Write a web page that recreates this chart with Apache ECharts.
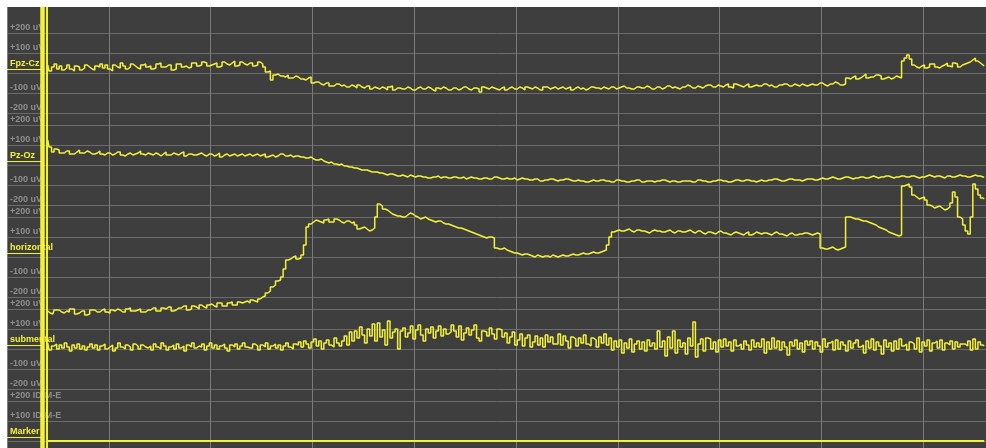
<!DOCTYPE html>
<html>
<head>
<meta charset="utf-8">
<script src="https://cdn.jsdelivr.net/npm/echarts@6.0.0/dist/echarts.min.js"></script>
<style>
html, body { margin: 0; padding: 0; background: #fff; }
#chart { width: 986px; height: 448px; }
</style>
</head>
<body>
<div id="chart"></div>
<script>
// montage
var channelNames = ['Fpz-Cz', 'Pz-Oz', 'horizontal', 'submental', 'Marker'];
var channelUnits = ['uV', 'uV', 'uV', 'uV', 'ID-M-E'];
var windowSec = 9.617;      // visible seconds
var startSec = 0.4, sampleSec = 0.025;
var cursorTimes = [0.346, 0.391];

// traces, uV (one sample every 0.025 s from startSec)
var fpzCz = [40, 10, 30, 45, 20, 35, 15, 25, 40, 20, 10, 35, 30, 15, 25, 40, 30, 20, 15, 35,
  30, 45, 25, 40, 20, 10, 40, 30, 25, 50, 35, 20, 30, 45, 35, 25, 20, 40, 45, 30,
  35, 20, 25, 45, 50, 30, 30, 40, 40, 15, 20, 45, 45, 30, 35, 25, 30, 50, 50, 35,
  40, 55, 50, 35, 40, 45, 50, 30, 35, 55, 45, 40, 50, 60, 35, 40, 55, 45, 40, 50,
  50, 35, 40, 55, 45, 30, 5, 10, -35, -10, -5, -15, -15, -20, -10, -25, -25, -15, -20, -30,
  -30, -35, -25, -20, -50, -45, -45, -55, -60, -50, -50, -65, -65, -55, -55, -65, -60, -70, -70, -60,
  -65, -75, -60, -70, -75, -65, -65, -80, -70, -75, -80, -70, -75, -85, -70, -65, -85, -75, -75, -80,
  -80, -70, -75, -85, -85, -75, -70, -80, -80, -70, -75, -85, -90, -75, -80, -70, -75, -85, -85, -75,
  -75, -85, -80, -70, -70, -80, -85, -75, -75, -80, -95, -70, -75, -80, -70, -75, -80, -85, -75, -70,
  -85, -75, -70, -80, -80, -70, -75, -85, -70, -75, -80, -70, -75, -85, -85, -70, -70, -80, -75, -70,
  -80, -75, -70, -80, -75, -70, -85, -75, -70, -80, -75, -85, -80, -70, -70, -75, -75, -80, -70, -75,
  -80, -70, -70, -80, -75, -70, -65, -75, -75, -80, -80, -70, -70, -75, -75, -65, -70, -80, -80, -70,
  -70, -80, -75, -65, -65, -75, -70, -75, -80, -70, -70, -60, -65, -75, -75, -65, -70, -75, -65, -60,
  -60, -70, -70, -60, -65, -70, -60, -55, -70, -75, -55, -60, -65, -70, -60, -55, -70, -65, -60, -65,
  -65, -55, -55, -65, -60, -70, -70, -60, -60, -55, -55, -65, -65, -55, -60, -65, -55, -60, -65, -60,
  -55, -60, -60, -50, -50, -60, -65, -55, -55, -45, -50, -60, -60, -55, -25, -30, -20, -15, -30, -25,
  -15, -5, -25, -20, -20, -10, -10, -15, -30, -25, -20, -30, -25, -15, -20, -25, 60, 75, 90, 70,
  40, 30, 25, 35, 40, 25, 30, 45, 45, 30, 25, 35, 40, 50, 35, 30, 50, 45, 30, 40,
  45, 50, 55, 65, 75, 60, 50, 40, 35];

var pzOz = [125, 90, 65, 80, 75, 60, 60, 70, 70, 55, 55, 65, 75, 60, 60, 70, 65, 55, 55, 60,
  70, 55, 50, 60, 60, 50, 55, 65, 65, 50, 45, 55, 60, 50, 55, 60, 70, 55, 50, 60,
  55, 50, 60, 55, 45, 55, 65, 50, 50, 60, 55, 50, 60, 65, 45, 55, 55, 50, 50, 55,
  60, 50, 45, 55, 55, 45, 50, 60, 40, 50, 55, 45, 50, 55, 45, 50, 55, 45, 50, 55,
  45, 50, 55, 45, 50, 55, 40, 45, 50, 40, 45, 55, 55, 45, 45, 50, 40, 45, 45, 40,
  40, 35, 35, 40, 30, 25, 25, 30, 20, 15, 10, 15, 5, 5, 0, 5, -5, -5, -10, -10,
  -15, -15, -20, -25, -25, -25, -30, -35, -35, -35, -40, -40, -45, -50, -45, -45, -50, -55, -55, -50,
  -55, -60, -50, -55, -60, -55, -55, -60, -60, -65, -65, -60, -60, -55, -65, -60, -60, -65, -65, -60,
  -60, -65, -65, -60, -70, -65, -60, -65, -65, -70, -70, -65, -65, -70, -70, -60, -60, -65, -70, -70,
  -65, -70, -70, -65, -75, -70, -65, -70, -70, -75, -75, -70, -70, -80, -80, -75, -75, -70, -70, -75,
  -80, -75, -75, -70, -70, -75, -80, -80, -75, -80, -80, -85, -85, -80, -75, -80, -80, -75, -75, -80,
  -80, -85, -85, -75, -75, -80, -80, -85, -85, -80, -80, -75, -75, -85, -85, -80, -80, -80, -85, -80,
  -80, -75, -75, -80, -85, -80, -80, -85, -85, -80, -80, -80, -80, -85, -85, -75, -75, -80, -80, -85,
  -85, -80, -80, -75, -75, -80, -80, -85, -85, -80, -75, -75, -80, -80, -75, -75, -80, -80, -85, -80,
  -75, -80, -80, -75, -75, -70, -70, -75, -80, -80, -75, -70, -70, -75, -75, -75, -80, -75, -70, -70,
  -70, -75, -75, -70, -65, -70, -70, -65, -60, -65, -70, -70, -65, -60, -60, -65, -70, -65, -65, -60,
  -60, -65, -65, -60, -55, -60, -65, -60, -60, -55, -55, -60, -65, -60, -60, -55, -55, -60, -60, -55,
  -55, -60, -65, -60, -60, -55, -50, -55, -60, -55, -55, -60, -65, -55, -55, -60, -60, -55, -50, -55,
  -55, -60, -60, -55, -50, -55, -55, -60, -60];

var horizontal = [-270, -280, -285, -265, -265, -275, -280, -270, -275, -260, -260, -285, -280, -270, -270, -290, -285, -265, -265, -275,
  -275, -265, -260, -275, -280, -265, -270, -260, -265, -275, -275, -260, -255, -270, -270, -265, -260, -275, -275, -265,
  -265, -255, -255, -270, -270, -255, -260, -250, -250, -270, -265, -255, -255, -245, -245, -265, -260, -245, -250, -260,
  -240, -250, -255, -240, -235, -245, -250, -230, -230, -245, -245, -230, -225, -240, -240, -225, -230, -225, -220, -230,
  -215, -220, -225, -210, -200, -195, -180, -170, -150, -140, -120, -115, -100, -60, -15, -10, 0, 5, -10, -5,
  10, 60, 150, 165, 175, 185, 180, 175, 170, 185, 190, 175, 175, 190, 185, 175, 170, 180, 180, 170,
  175, 160, 140, 145, 150, 140, 130, 135, 145, 200, 265, 255, 240, 235, 225, 215, 210, 205, 205, 200,
  200, 210, 220, 215, 205, 200, 190, 195, 200, 190, 185, 180, 175, 180, 180, 170, 165, 165, 160, 155,
  150, 145, 145, 140, 135, 130, 125, 120, 115, 110, 105, 100, 95, 100, 100, 95, 45, 40, 40, 45,
  35, 30, 25, 20, 20, 15, 10, 15, 15, 10, 5, 0, 10, 5, 0, 5, 5, 0, 10, 5,
  0, 5, 10, 5, 5, 10, 15, 10, 10, 15, 20, 15, 15, 20, 25, 20, 20, 25, 30, 35,
  60, 100, 125, 130, 135, 130, 130, 135, 140, 130, 125, 135, 135, 130, 130, 125, 120, 130, 135, 130,
  130, 125, 125, 130, 135, 125, 120, 130, 130, 125, 125, 130, 135, 125, 120, 130, 130, 120, 115, 125,
  125, 120, 115, 125, 130, 120, 120, 115, 110, 120, 125, 120, 115, 110, 120, 125, 110, 115, 125, 120,
  115, 120, 120, 115, 110, 120, 125, 115, 115, 110, 105, 115, 120, 110, 110, 115, 115, 120, 120, 115,
  110, 115, 120, 115, 45, 40, 40, 45, 50, 40, 35, 40, 45, 50, 200, 200, 195, 190, 190, 185,
  180, 180, 175, 170, 165, 160, 150, 145, 140, 135, 125, 120, 115, 110, 105, 110, 355, 360, 365, 350,
  310, 300, 290, 295, 300, 285, 260, 255, 245, 250, 255, 245, 235, 240, 250, 270, 325, 300, 200, 190,
  160, 130, 115, 200, 365, 340, 310, 295, 290];

var submental = [30, -5, 15, 25, 0, 20, 5, 30, 10, -10, 20, 5, 25, 0, 15, -5, 10, 25, 5, 20,
  -5, 15, 25, 0, 10, 20, -10, 5, 30, 10, 0, 20, 10, -5, 25, 15, 0, 20, 10, 5,
  15, -5, 25, 10, 0, 30, 15, -5, 10, 20, 0, 25, 5, 15, -10, 20, 10, 30, 5, 15,
  10, 25, -5, 15, 30, 5, 20, 0, 15, 25, 5, -10, 20, 10, 25, 0, 15, 30, 10, 5,
  5, 25, 15, -5, 20, 10, 30, 0, 15, 25, 5, 20, -5, 15, 30, 10, 0, 25, 20, 35,
  10, 40, 25, 5, 35, 50, 15, 40, 0, 30, 45, 20, 10, 55, 30, 15, 40, 65, 20, 85,
  40, 90, 55, 110, 70, 30, 100, 65, 125, 40, 130, 60, 95, 20, 140, 55, 85, 100, 0, 90,
  105, 60, 80, 115, 50, 95, 120, 70, 40, 100, 80, 110, 55, 90, 115, 65, 100, 75, 85, 120,
  90, 60, 115, 45, 80, 105, 70, 95, 120, 55, 40, 90, 85, 65, 105, 75, 50, 100, 95, 60,
  80, 30, 60, 85, 20, 45, 75, 15, 55, 70, 10, 35, 65, 20, 55, 10, 70, 35, 60, 25,
  25, 75, 20, 65, 40, 5, 60, 50, 15, 55, 30, 70, 25, 15, 55, 45, 10, 60, 30, 75,
  20, 55, -5, 40, 10, 45, -20, 30, 5, 50, -15, 25, 40, 0, 35, -10, 45, 15, 30, 0,
  90, 10, 40, -35, 60, 5, 90, -20, 45, 10, 30, -25, 55, 15, 135, -40, 25, 50, -10, 55,
  50, 0, 35, -15, 45, 10, 50, 15, 35, -10, 45, 15, 25, 0, 40, 20, -5, 45, 10, 30,
  10, 50, -20, 35, 0, 55, 5, 40, -5, 35, 10, -30, 35, 15, 45, 0, 30, -15, 40, 20,
  40, 0, 35, 15, -15, 50, 10, 30, 40, -5, 45, 0, 35, 20, -10, 40, 5, 30, 45, 10,
  20, -20, 40, 5, 50, -5, 35, 15, -25, 45, 10, 30, -10, 40, 0, 50, 15, 25, -5, 35,
  25, 0, 55, -15, 35, 15, 45, -10, 30, 40, 5, 45, -5, 30, 20, 40, 0, 35, 10, 25,
  25, 15, 40, -5, 50, 0, 35, 20, 15];

// marker channel: flat, no events
var markerSamples = [[0.4, 0], [9.6, 0]];

var yellow = '#f4f236';
var labelFont = '"Liberation Sans", Arial, sans-serif';
var firstZero = 73, rowPitch = 92;

var grids = [{ left: 7, top: 7, right: 0, bottom: 0, show: true, backgroundColor: '#3e3e3e', borderWidth: 0 }];
var xAxes = [{
  type: 'value', gridIndex: 0, min: 0, max: windowSec, interval: 1,
  axisLine: { show: false }, axisTick: { show: false }, axisLabel: { show: false },
  splitLine: { show: true, lineStyle: { color: '#7b7b7b', width: 1 } }
}];
var yAxes = [{ type: 'value', gridIndex: 0, show: false }];

channelNames.forEach(function (name, k) {
  var unit = channelUnits[k];
  var last = k === channelNames.length - 1;   // bottom row is cut by the window edge
  grids.push({ left: 7, right: 0, top: firstZero + k * rowPitch - 40, height: last ? 40 : 80, show: false });
  xAxes.push({ type: 'value', gridIndex: k + 1, min: 0, max: windowSec, show: false });
  yAxes.push({
    type: 'value', gridIndex: k + 1, min: last ? 0 : -200, max: 200, interval: 100,
    axisLine: { show: false }, axisTick: { show: false },
    splitLine: { show: true, lineStyle: { color: '#6b6b6b', width: 1 } },
    axisLabel: {
      inside: true, margin: 0, align: 'left', verticalAlign: 'bottom',
      showMinLabel: true, showMaxLabel: true,
      formatter: function (v) {
        if (v === 0) return '{n|' + name + '}\n{u|}\n{s|}';
        return '{g|' + (v > 0 ? '+' : '') + v + ' ' + unit + '}';
      },
      rich: {
        g: { color: '#8e8e8e', fontFamily: labelFont, fontWeight: 'bold', fontSize: 9, lineHeight: 10, padding: [0, 0, 0, 3] },
        n: { color: yellow, fontFamily: labelFont, fontWeight: 'bold', fontSize: 9, lineHeight: 10, padding: [0, 0, 0, 3] },
        u: { width: 35, height: 1, backgroundColor: yellow },
        s: { height: 3 }
      }
    }
  });
});

var traces = [fpzCz, pzOz, horizontal, submental];
var series = traces.map(function (vals, k) {
  return {
    type: 'line', xAxisIndex: k + 1, yAxisIndex: k + 1,
    data: vals.map(function (v, i) { return [startSec + i * sampleSec, v]; }),
    showSymbol: false, step: 'middle', clip: false, silent: true,
    lineStyle: { color: yellow, width: 1.5 }
  };
});
series.push({
  type: 'line', xAxisIndex: 5, yAxisIndex: 5, data: markerSamples,
  showSymbol: false, clip: false, silent: true,
  lineStyle: { color: yellow, width: 2 }
});
// cursor bar across all channels
series.push({
  type: 'line', xAxisIndex: 0, yAxisIndex: 0, data: [],
  markLine: {
    symbol: 'none', silent: true, label: { show: false },
    lineStyle: { color: yellow, type: 'solid' },
    data: [
      { xAxis: cursorTimes[0], lineStyle: { width: 4.5 } },
      { xAxis: cursorTimes[1], lineStyle: { width: 2 } }
    ]
  }
});

var myChart = echarts.init(document.getElementById('chart'));
myChart.setOption({
  backgroundColor: '#ffffff',
  animation: false,
  grid: grids,
  xAxis: xAxes,
  yAxis: yAxes,
  series: series
});
</script>
</body>
</html>
